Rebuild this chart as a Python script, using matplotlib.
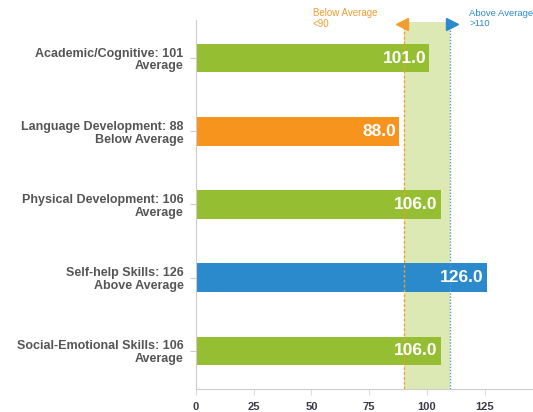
import matplotlib
matplotlib.use("Agg")
import matplotlib.pyplot as plt

categories = ["Academic/Cognitive: 101\nAverage",
              "Language Development: 88\nBelow Average",
              "Physical Development: 106\nAverage",
              "Self-help Skills: 126\nAbove Average",
              "Social-Emotional Skills: 106\nAverage"]
values = [101.0, 88.0, 106.0, 126.0, 106.0]
bar_colors = ["#96BE33", "#F7941E", "#96BE33", "#2B8ACB", "#96BE33"]
xticks = [0, 25, 50, 75, 100, 125]
low_cut = 90
high_cut = 110

plt.rcParams['font.family'] = ['Liberation Sans', 'DejaVu Sans']

fig = plt.figure(figsize=(5.33, 4.12), dpi=100)
ax = fig.add_axes([196/533, 1-389/412, 1-196/533, (389-20)/412])

ypos = list(range(len(categories)))
ax.axvspan(low_cut, high_cut, ymin=0, ymax=0.994, color="#DDE9B5", zorder=0, lw=0)
ax.barh(ypos, values, height=0.39, color=bar_colors, zorder=2)
for y, v in zip(ypos, values):
    ax.text(v - 1.3, y, f"{v:.1f}", ha="right", va="center", color="white",
            fontsize=12.5, fontweight="bold", zorder=4)

ax.axvline(low_cut, ymax=0.994, color="#F39C30", lw=1.0, ls=(0, (2, 1.5)), zorder=3)
ax.axvline(high_cut, ymax=0.994, color="#4A9ED6", lw=1.0, ls=(0, (1, 1.2)), zorder=3)
ax.plot([low_cut - 0.8], [-0.46], marker="<", color="#F39C30", ms=8, clip_on=False, zorder=5)
ax.plot([high_cut + 0.8], [-0.46], marker=">", color="#2B8ACB", ms=8, clip_on=False, zorder=5)
ax.text(50.6, -0.545, "Below Average\n<90", color="#F39C30", fontsize=7,
        ha="left", va="center", linespacing=1.15, clip_on=False)
ax.text(118.3, -0.545, "Above Average\n>110", color="#2B8ACB", fontsize=6.8,
        ha="left", va="center", linespacing=1.15, clip_on=False)

ax.set_xlim(0, 146)
ax.set_ylim(4.52, -0.52)
ax.set_yticks(ypos)
ax.set_yticklabels(categories, fontsize=9, fontweight="bold", color="#555555",
                   linespacing=1.1, ha="right")
ax.set_xticks(xticks)
ax.set_xticklabels([str(t) for t in xticks], fontsize=8, fontweight="bold", color="#3A3A4A")
ax.tick_params(axis="y", length=4, color="#CCCCCC", pad=5)
ax.tick_params(axis="x", length=4, color="#DDDDDD", pad=5, direction="out")
for s in ["top", "right"]:
    ax.spines[s].set_visible(False)
ax.spines["left"].set_color("#CCCCCC")
ax.spines["bottom"].set_color("#CCCCCC")

fig.savefig("out.png", dpi=100)
